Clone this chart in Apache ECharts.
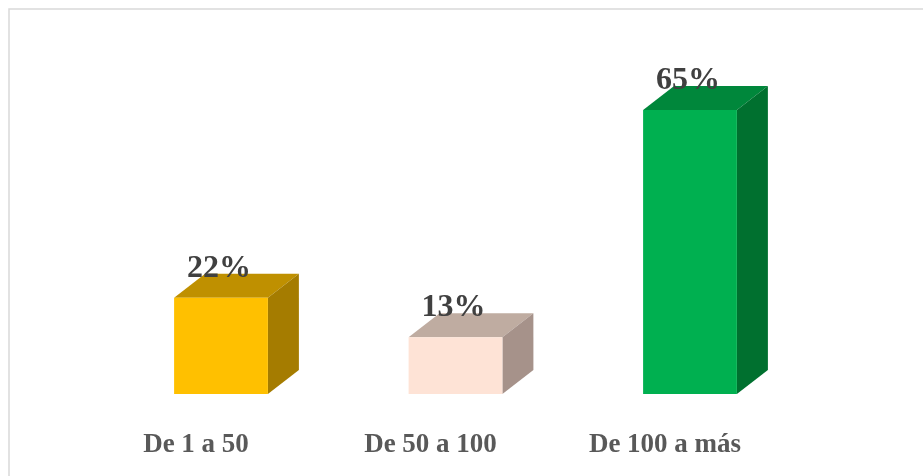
<!DOCTYPE html>
<html>
<head>
<meta charset="utf-8">
<script src="https://cdn.jsdelivr.net/npm/echarts@6/dist/echarts.min.js"></script>
<style>
html,body{margin:0;padding:0;background:#fff;}
#main{width:923px;height:476px;}
</style>
</head>
<body>
<div id="main"></div>
<script>
// datos del grafico
var categorias = ["De 1 a 50", "De 50 a 100", "De 100 a más"];
var valores = [22, 13, 65];
var coloresFrente = ["#FFC000", "#FEE3D6", "#00B050"];
var coloresArriba = ["#BF9000", "#BFACA1", "#00873B"];
var coloresLado = ["#A57C00", "#A6928A", "#00702F"];

var chart = echarts.init(document.getElementById("main"));

// profundidad de la caja 3D (px)
var dx = 31, dy = -24;

var renderBar = function(params, api) {
	var i = params.dataIndex;
	var top = api.coord([api.value(0), api.value(1)]);
	var base = api.coord([api.value(0), 0]);
	var w = api.size([1, 0])[0] * 0.4;
	var x0 = top[0] - w / 2, x1 = top[0] + w / 2;
	var y0 = top[1], y1 = base[1];
	return {
		type: "group",
		children: [
			{
				type: "polygon",
				shape: { points: [[x0, y0], [x1, y0], [x1 + dx, y0 + dy], [x0 + dx, y0 + dy]] },
				style: { fill: coloresArriba[i] }
			},
			{
				type: "polygon",
				shape: { points: [[x1, y0], [x1 + dx, y0 + dy], [x1 + dx, y1 + dy], [x1, y1]] },
				style: { fill: coloresLado[i] }
			},
			{
				type: "rect",
				shape: { x: x0, y: y0, width: w, height: y1 - y0 },
				style: { fill: coloresFrente[i] }
			}
		]
	};
};

var option = {
	animation: false,
	backgroundColor: "#fff",
	graphic: [{
		type: "rect",
		shape: { x: 9, y: 9, width: 1000, height: 1000 },
		style: { fill: "none", stroke: "#D9D9D9", lineWidth: 1.5 },
		silent: true
	}],
	grid: [
		{ left: 103.75, right: 115.75, top: 44.4, bottom: 82 },
		{ left: 78.75, right: 140.75, top: 44.4, bottom: 82 }
	],
	xAxis: [
		{
			type: "category", gridIndex: 0, data: categorias,
			axisLine: { show: false }, axisTick: { show: false }, axisLabel: { show: false }
		},
		{
			type: "category", gridIndex: 1, data: categorias,
			axisLine: { show: false }, axisTick: { show: false },
			axisLabel: {
				margin: 38,
				color: "#595959",
				fontFamily: "Liberation Serif",
				fontWeight: "bold",
				fontSize: 27
			}
		}
	],
	yAxis: [
		{ type: "value", gridIndex: 0, min: 0, max: 80, show: false },
		{ type: "value", gridIndex: 1, min: 0, max: 80, show: false }
	],
	series: [
		{
			type: "custom",
			xAxisIndex: 0,
			yAxisIndex: 0,
			renderItem: renderBar,
			data: valores.map(function(v, i) { return [i, v]; })
		},
		{
			// etiquetas de porcentaje
			type: "bar",
			xAxisIndex: 0,
			yAxisIndex: 0,
			barWidth: "40%",
			itemStyle: { color: "rgba(0,0,0,0)" },
			label: {
				show: true,
				position: "top",
				distance: 13,
				offset: [-2, 0],
				formatter: "{c}%",
				color: "#404040",
				fontFamily: "Liberation Serif",
				fontWeight: "bold",
				fontSize: 32
			},
			silent: true,
			z: 5,
			data: valores
		}
	]
};

chart.setOption(option);
</script>
</body>
</html>
